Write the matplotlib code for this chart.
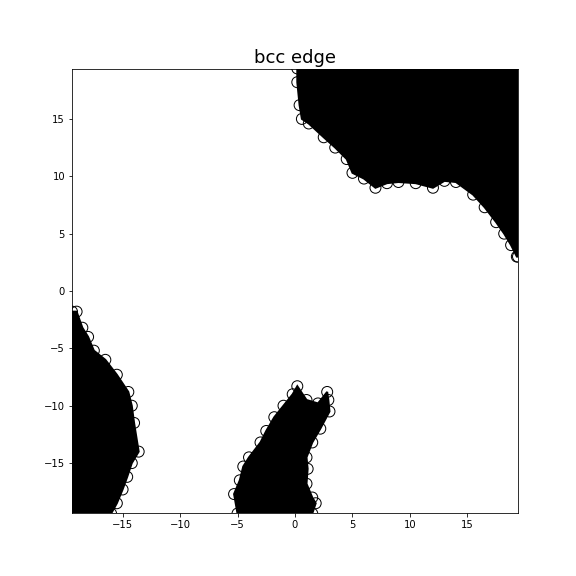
import matplotlib
matplotlib.use("Agg")
import matplotlib.pyplot as plt

# Boundary outlines of the dense displacement-vector regions
tr_x = [0.2, 0.4, 0.6, 1.2, 2.5, 3.5, 4.5, 5.0, 6.0, 7.0, 8.0, 9.0, 10.5, 12.0, 13.0, 14.0, 15.5, 16.5, 17.5, 18.2, 18.8, 19.3, 19.4, 19.4, 0.2]
tr_y = [18.2, 16.2, 15.0, 14.6, 13.4, 12.5, 11.5, 10.3, 9.8, 9.0, 9.4, 9.5, 9.4, 9.0, 9.6, 9.5, 8.4, 7.3, 6.0, 5.0, 4.0, 3.0, 3.0, 19.4, 19.4]
bl_x = [-19.4, -19.0, -18.5, -18.0, -17.5, -16.5, -15.5, -14.5, -14.2, -14.0, -13.6, -14.2, -14.6, -15.0, -15.5, -16.0, -19.4]
bl_y = [-1.8, -1.8, -3.2, -4.0, -5.2, -6.0, -7.3, -8.8, -10.0, -11.5, -14.0, -15.0, -16.2, -17.3, -18.5, -19.4, -19.4]
bm_x = [-5.3, -4.8, -4.5, -4.0, -3.0, -2.5, -1.8, -1.0, -0.2, 0.2, 1.0, 2.0, 2.8, 2.9, 3.0, 2.2, 1.5, 1.0, 1.1, 1.0, 1.5, 1.8, 1.5, -5.0]
bm_y = [-17.7, -16.5, -15.3, -14.5, -13.2, -12.2, -11.0, -10.0, -9.0, -8.3, -9.5, -9.8, -8.8, -9.5, -10.5, -12.0, -13.2, -14.5, -15.5, -16.8, -18.0, -18.5, -19.4, -19.4]

regions = [(tr_x, tr_y), (bl_x, bl_y), (bm_x, bm_y)]

fig = plt.figure(figsize=(8, 8), dpi=72)
ax = fig.add_axes([72/576, 63/576, 446/576, 444/576])
for xs, ys in regions:
    ax.fill(xs, ys, color="black", lw=2)
    ax.scatter(xs, ys, s=120, facecolors="none", edgecolors="black", lw=1, zorder=3)
ax.set_xlim(-19.4, 19.4)
ax.set_ylim(-19.35, 19.35)
ax.set_xticks([-15, -10, -5, 0, 5, 10, 15])
ax.set_yticks([-15, -10, -5, 0, 5, 10, 15])
ax.set_title("bcc edge", fontsize=18)
fig.savefig("out.png", dpi=72)
